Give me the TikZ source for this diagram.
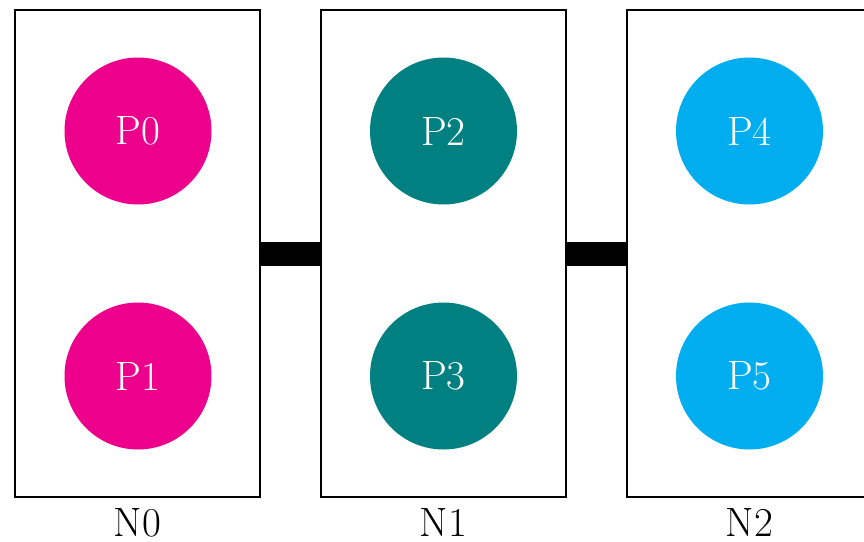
\documentclass[tikz,border=0pt]{standalone}
\definecolor{pmag}{HTML}{EC008C}
\definecolor{pteal}{HTML}{008080}
\definecolor{pcyan}{HTML}{00AEEF}
\begin{document}
\begin{tikzpicture}[x=1pt,y=-1pt,
  nodebox/.style={draw,line width=1.3pt,rectangle,minimum width=245pt,minimum height=487pt,inner sep=0pt,outer sep=0pt},
  proc/.style={circle,fill=#1,minimum size=147pt,inner sep=0pt,text=white,font=\fontsize{41}{49}\selectfont},
  lbl/.style={anchor=base,inner sep=0pt,font=\fontsize{41}{49}\selectfont},
  link/.style={line width=24pt}]
\useasboundingbox (0,0) rectangle (864,541);
\node[nodebox] (n0) at (137.5,253.5) {};
\node[nodebox] (n1) at (443.5,253.5) {};
\node[nodebox] (n2) at (749.5,253.5) {};
\node[proc=pmag] (p0) at (138,131) {P0};
\node[proc=pmag] (p1) at (138,376) {P1};
\node[proc=pteal] (p2) at (443.5,131) {P2};
\node[proc=pteal] (p3) at (443.5,376) {P3};
\node[proc=pcyan] (p4) at (749.5,131) {P4};
\node[proc=pcyan] (p5) at (749.5,376) {P5};
\node[lbl] (l0) at (137.5,536.5) {N0};
\node[lbl] (l1) at (443.5,536.5) {N1};
\node[lbl] (l2) at (749.5,536.5) {N2};
\draw[link] (n0.east) -- (n1.west);
\draw[link] (n1.east) -- (n2.west);
\end{tikzpicture}
\end{document}
